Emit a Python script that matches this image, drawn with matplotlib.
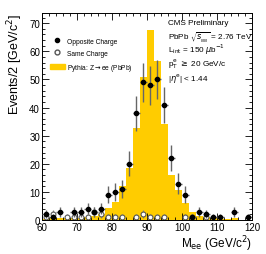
import numpy as np
import matplotlib
matplotlib.use("Agg")
import matplotlib.pyplot as plt
from matplotlib.ticker import MultipleLocator
from matplotlib.patches import Patch
from matplotlib.lines import Line2D

# bin edges (2 GeV bins) and contents
edges = np.arange(60, 122, 2)
centers = edges[:-1] + 1

pythia = [0.5, 0.6, 0.7, 0.6, 0.8, 0.9, 1.2, 1.5, 2.2, 4.3,
          6.3, 12.2, 18.5, 32.7, 51.0, 67.5, 56.6, 34.0, 16.0, 10.7,
          6.0, 2.8, 1.6, 1.2, 0.8, 0.5, 0.4, 0.8, 0.2, 0.2]

opposite = [2, 1, 3, 0, 3, 3, 4, 3, 4, 9,
            10, 11, 20, 38, 49, 48, 50, 41, 22, 13,
            9, 1, 3, 2, 1, 1, 0, 3, 0, 1]

same = [1, 2, 0, 1, 1, 1, 1, 3, 2, 1,
        1, 1, 0, 1, 2, 1, 1, 1, 0, 0,
        1, 1, 0, 1, 0, 0, 0, 0, 0, 0]

plt.rcParams['font.family'] = ['Liberation Sans', 'DejaVu Sans']

fig = plt.figure(figsize=(2.66, 2.55), dpi=100)
ax = fig.add_axes([0.158, 0.133, 0.789, 0.812])

ax.bar(centers, pythia, width=2, color='#FFCC00', linewidth=0, zorder=1)

opp = np.array(opposite, dtype=float)
m = opp > 0
ax.errorbar(centers[m], opp[m], yerr=np.sqrt(opp[m]), xerr=1, fmt='o', ms=3,
            color='black', ecolor='#666666', elinewidth=1, capsize=0, zorder=3)

sc = np.array(same, dtype=float)
m2 = sc > 0
ax.errorbar(centers[m2], sc[m2], yerr=np.sqrt(sc[m2]), fmt='o', ms=3.5,
            mfc='white', mec='#555555', mew=0.8, ecolor='#888888',
            elinewidth=0.8, capsize=0, zorder=2)

ax.set_xlim(60, 120)
ax.set_ylim(0, 73.6)
ax.xaxis.set_major_locator(MultipleLocator(10))
ax.xaxis.set_minor_locator(MultipleLocator(2))
ax.yaxis.set_major_locator(MultipleLocator(10))
ax.yaxis.set_minor_locator(MultipleLocator(2))
ax.tick_params(which='both', direction='in', top=True, right=True,
               labelsize=7, pad=1.5, width=0.6)
ax.tick_params(which='major', length=5)
ax.tick_params(which='minor', length=2.5)
for s in ax.spines.values():
    s.set_linewidth(0.7)

ax.set_xlabel(r'M$_{\mathrm{ee}}$ (GeV/c$^2$)', fontsize=8.5, loc='right', labelpad=1)
ax.set_ylabel(r'Events/2 [GeV/c$^2$]', fontsize=9, loc='top', labelpad=3)

handles = [Line2D([], [], marker='o', ls='none', color='black', ms=3),
           Line2D([], [], marker='o', ls='none', mfc='white', mec='#555555', ms=3.5),
           Patch(color='#FFCC00')]
labels = ['Opposite Charge', 'Same Charge', r'Pythia: Z$\rightarrow$ee (PbPb)']
ax.legend(handles, labels, loc='upper left', bbox_to_anchor=(0.01, 0.91),
          frameon=False, fontsize=4.8, handlelength=2.2, labelspacing=0.75,
          handletextpad=0.4)

txt = [('CMS Preliminary', 0.955),
       (r'PbPb $\sqrt{s_{_{NN}}}$ = 2.76 TeV', 0.89),
       (r'L$_{\mathrm{int}}$ = 150 $\mu$b$^{-1}$', 0.825),
       (r'p$_{\mathrm{T}}^{\mathrm{e}}$ $\geq$ 20 GeV/c', 0.758),
       (r'|$\eta^{\mathrm{e}}$| < 1.44', 0.69)]
for t, y in txt:
    ax.text(0.6, y, t, transform=ax.transAxes, fontsize=5.9, va='center', ha='left')

fig.savefig('out.png', dpi=100)
